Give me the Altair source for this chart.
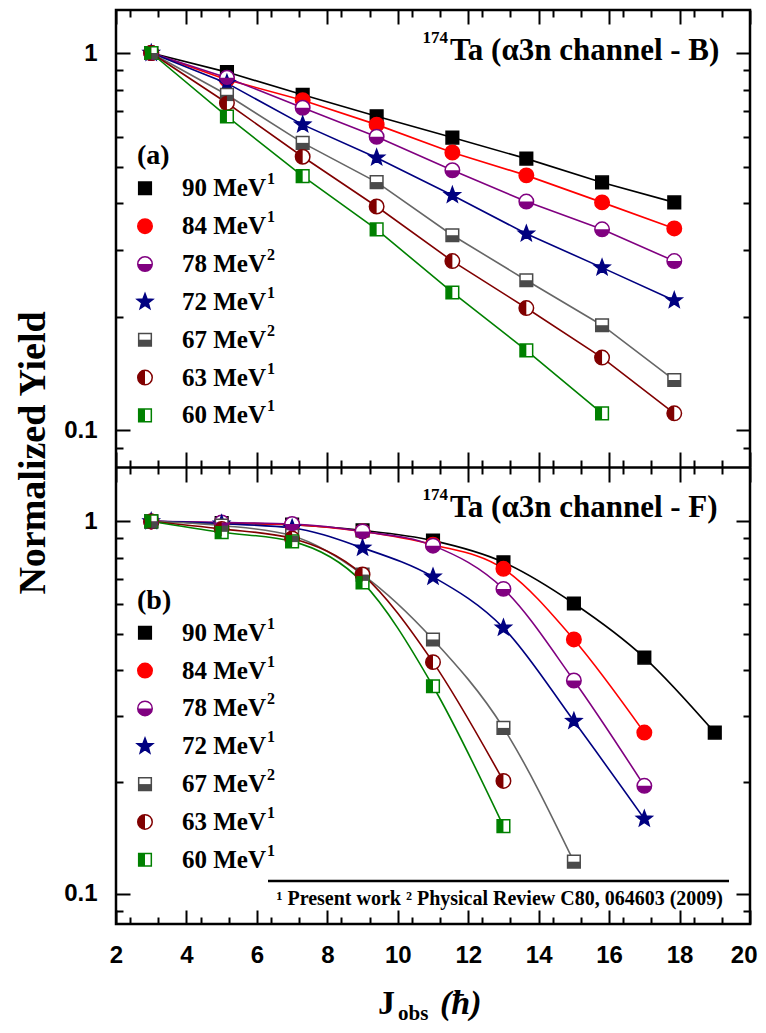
import math
import altair as alt
import pandas as pd

# ---------------- data ----------------
SERIES = ["90 MeV", "84 MeV", "78 MeV", "72 MeV", "67 MeV", "63 MeV", "60 MeV"]
REFS = ["1", "1", "2", "1", "2", "1", "1"]

# panel (a): alpha3n channel - B
J_B = [3, 5.15, 7.3, 9.4, 11.55, 13.65, 15.8, 17.85]
B_90 = [1.0, 0.89, 0.775, 0.68, 0.597, 0.525, 0.454, 0.402]
B_84 = [1.0, 0.85, 0.75, 0.646, 0.545, 0.474, 0.402, 0.343]
B_78 = [1.0, 0.86, 0.716, 0.60, 0.489, 0.404, 0.341, 0.281]
B_72 = [1.0, 0.832, 0.646, 0.528, 0.42, 0.332, 0.27, 0.221]
B_67 = [1.0, 0.775, 0.578, 0.455, 0.329, 0.25, 0.19, 0.136]
B_63 = [1.0, 0.737, 0.531, 0.392, 0.281, 0.211, 0.156, 0.111]
B_60 = [1.0, 0.679, 0.472, 0.341, 0.232, 0.163, 0.111]

# panel (b): alpha3n channel - F
J_F = [3, 5, 7, 9, 11, 13, 15, 17, 19]
F_90 = [1.0, 0.99, 0.98, 0.946, 0.888, 0.777, 0.602, 0.431, 0.271]
F_84 = [1.0, 0.99, 0.98, 0.94, 0.866, 0.746, 0.482, 0.271]
F_78 = [1.0, 0.994, 0.984, 0.94, 0.861, 0.659, 0.374, 0.195]
F_72 = [1.0, 0.986, 0.96, 0.849, 0.71, 0.518, 0.291, 0.159]
F_67 = [1.0, 0.975, 0.915, 0.72, 0.482, 0.279, 0.122]
F_63 = [1.0, 0.955, 0.9, 0.72, 0.419, 0.201]
F_60 = [1.0, 0.935, 0.884, 0.686, 0.361, 0.152]

X_TICKS = [2, 4, 6, 8, 10, 12, 14, 16, 18, 20]
Y_TICKS = [0.1, 1]

ISOTOPE = "174"
TITLE_A = "Ta (α3n channel - B)"
TITLE_B = "Ta (α3n channel - F)"
PANEL_A = "(a)"
PANEL_B = "(b)"
FOOTNOTE = "¹ Present work ² Physical Review C80, 064603 (2009)"
Y_TITLE = "Normalized  Yield"

# ---------------- styles ----------------
SERIF = "Liberation Serif"
SANS = "Liberation Sans"
W, H = 634, 914
HALF_H = 457

HALF_CIRCLE_BOTTOM = "M -1 0 A 1 1 0 0 0 1 0 Z"
HALF_CIRCLE_LEFT = "M 0 -1 A 1 1 0 0 0 0 1 Z"
HALF_SQUARE_BOTTOM = "M -1 0 L 1 0 L 1 1 L -1 1 Z"
HALF_SQUARE_LEFT = "M -1 -1 L 0 -1 L 0 1 L -1 1 Z"


def star_path(inner=0.42):
    pts = []
    for k in range(10):
        a = math.radians(-90 + 36 * k)
        r = 1.0 if k % 2 == 0 else inner
        pts.append(f"{r * math.cos(a):.4f} {r * math.sin(a):.4f}")
    return "M " + " L ".join(pts) + " Z"


STAR = star_path()

STYLE = {
    "90 MeV": dict(color="#000000", line="#000000", shape="square", fill="#000000", half="", size=160),
    "84 MeV": dict(color="#ff0000", line="#ff0000", shape="circle", fill="#ff0000", half="", size=210),
    "78 MeV": dict(color="#800080", line="#800080", shape="circle", fill="#ffffff", half=HALF_CIRCLE_BOTTOM, size=210),
    "72 MeV": dict(color="#000080", line="#000080", shape=STAR, fill="#000080", half="", size=270),
    "67 MeV": dict(color="#4a4a4a", line="#666666", shape="square", fill="#ffffff", half=HALF_SQUARE_BOTTOM, size=160),
    "63 MeV": dict(color="#800000", line="#800000", shape="circle", fill="#ffffff", half=HALF_CIRCLE_LEFT, size=210),
    "60 MeV": dict(color="#008000", line="#008000", shape="square", fill="#ffffff", half=HALF_SQUARE_LEFT, size=160),
}


def panel_df(xs, ys_list):
    rows = []
    for s, ys in zip(SERIES, ys_list):
        st = STYLE[s]
        for x, y in zip(xs, ys):
            rows.append(dict(series=s, J=x, Y=y, **st))
    return pd.DataFrame(rows)


top_df = panel_df(J_B, [B_90, B_84, B_78, B_72, B_67, B_63, B_60])
bot_df = panel_df(J_F, [F_90, F_84, F_78, F_72, F_67, F_63, F_60])

XS = alt.Scale(domain=[2, 20], nice=False, zero=False)
YT = alt.Scale(type="log", domain=[0.08, 1.3], range=[HALF_H, 0], nice=False)
YB = alt.Scale(type="log", domain=[0.083, 1.4], range=[H, HALF_H], nice=False)


def lines(df, ys, interp):
    return alt.Chart(df).mark_line(strokeWidth=1.6, interpolate=interp).encode(
        x=alt.X("J:Q", scale=XS, axis=None),
        y=alt.Y("Y:Q", scale=ys, axis=None),
        stroke=alt.Stroke("line:N", scale=None),
        detail="series:N",
    )


def markers(df, xenc, yenc):
    base = alt.Chart(df).mark_point(filled=True, strokeWidth=1.5, opacity=1).encode(
        x=xenc, y=yenc,
        shape=alt.Shape("shape:N", scale=None),
        fill=alt.Fill("fill:N", scale=None),
        stroke=alt.Stroke("color:N", scale=None),
        size=alt.Size("size:Q", scale=None),
    )
    half = alt.Chart(df[df["half"] != ""]).mark_point(filled=True, strokeWidth=0, opacity=1).encode(
        x=xenc, y=yenc,
        shape=alt.Shape("half:N", scale=None),
        fill=alt.Fill("color:N", scale=None),
        size=alt.Size("size:Q", scale=None),
    )
    return [base, half]


# legend table (layout computed from row index)
LEG_FONT = 25
leg_rows = []
for top0 in (178.3, 622.7):
    for i, (s, r) in enumerate(zip(SERIES, REFS)):
        c = top0 + 37.85 * i
        d = dict(series=s, label=s, ref=r, lx=29, ly=c, tx=66, ty=c + 8,
                 sx=66 + 3.36 * LEG_FONT + 1, sy=c - 4)
        d.update(STYLE[s])
        leg_rows.append(d)
leg_df = pd.DataFrame(leg_rows)

ONE = pd.DataFrame({"k": [0]})


def text(t, x, y, size, font=SERIF, align="left", baseline="alphabetic", angle=0, style="normal"):
    return alt.Chart(ONE).mark_text(
        text=t, align=align, baseline=baseline, angle=angle, font=font,
        fontSize=size, fontWeight="bold", fontStyle=style, color="black",
    ).encode(x=alt.value(x), y=alt.value(y))


AXD = pd.DataFrame({"J": [10.0], "Y": [0.5]})
MINOR_X = [round(2 + 0.4 * i, 1) for i in range(46) if i % 5]
MINOR_Y = [0.09] + [k / 10 for k in range(2, 10)]


def xaxis(orient, offset, size, values, labels=False, domain=False, align="center", loff=0):
    ax = alt.Axis(
        orient=orient, offset=offset, values=values, tickSize=size, ticks=size > 0,
        labels=labels, domain=domain, grid=False, title=None, tickWidth=2, tickColor="black",
        domainWidth=2.5, domainColor="black", labelFont=SANS, labelFontSize=24,
        labelFontWeight="bold", labelColor="black", labelPadding=19, labelFlush=False,
        labelOverlap=False, format="d", labelAlign=align, labelOffset=loff,
    )
    return alt.Chart(AXD).mark_point(opacity=0).encode(x=alt.X("J:Q", scale=XS, axis=ax))


def yaxis(scale, orient, offset, size, values, labels=False):
    ax = alt.Axis(
        orient=orient, offset=offset, values=values, tickSize=size, ticks=size > 0,
        labels=labels, domain=False, grid=False, title=None, tickWidth=2, tickColor="black",
        labelFont=SANS, labelFontSize=24, labelFontWeight="bold", labelColor="black",
        labelPadding=19, labelFlush=False, labelOverlap=False, format=".1~f",
    )
    return alt.Chart(AXD).mark_point(opacity=0).encode(y=alt.Y("Y:Q", scale=scale, axis=ax))


layers = []
layers.append(lines(top_df, YT, "linear"))
layers.append(lines(bot_df, YB, "monotone"))
layers += markers(top_df, alt.X("J:Q", scale=XS, axis=None), alt.Y("Y:Q", scale=YT, axis=None))
layers += markers(bot_df, alt.X("J:Q", scale=XS, axis=None), alt.Y("Y:Q", scale=YB, axis=None))
layers += markers(leg_df, alt.X("lx:Q", scale=None, axis=None), alt.Y("ly:Q", scale=None, axis=None))
layers.append(
    alt.Chart(leg_df).mark_text(align="left", baseline="alphabetic", font=SERIF, fontSize=LEG_FONT,
                                fontWeight="bold", color="black").encode(
        x=alt.X("tx:Q", scale=None, axis=None), y=alt.Y("ty:Q", scale=None, axis=None), text="label:N")
)
layers.append(
    alt.Chart(leg_df).mark_text(align="left", baseline="alphabetic", font=SERIF, fontSize=16,
                                fontWeight="bold", color="black").encode(
        x=alt.X("sx:Q", scale=None, axis=None), y=alt.Y("sy:Q", scale=None, axis=None), text="ref:N")
)

# panel labels and titles
layers.append(text(PANEL_A, 21, 154, 28))
layers.append(text(PANEL_B, 21, 599, 28))
layers.append(text(TITLE_A, 334, 50, 31))
layers.append(text(ISOTOPE, 332, 33, 17, align="right"))
layers.append(text(TITLE_B, 334, 507, 31))
layers.append(text(ISOTOPE, 332, 490, 17, align="right"))

# footnote with rule above it
layers.append(alt.Chart(ONE).mark_rule(color="black", strokeWidth=2.5).encode(
    x=alt.value(152), x2=alt.value(613), y=alt.value(871)))
layers.append(text(FOOTNOTE, 607, 895, 20, align="right"))

# axis titles
layers.append(text(Y_TITLE, -71, 443, 38, align="center", angle=270))
layers.append(text("J", 262, 1004, 34))
layers.append(text("obs", 282, 1010, 21))
layers.append(text("(ħ)", 324, 1004, 34, style="italic"))

# x axes: bottom frame, top frame, divider (both sides)
layers += [
    xaxis("bottom", 0, 0, X_TICKS[:-1], labels=True),
    xaxis("bottom", 0, 0, X_TICKS[-1:], labels=True, align="right", loff=7),
    xaxis("top", -H, 14, X_TICKS),
    xaxis("top", -H, 7, MINOR_X),
    xaxis("bottom", -H, 14, X_TICKS),
    xaxis("bottom", -H, 7, MINOR_X),
    xaxis("bottom", -HALF_H, 15, X_TICKS, domain=True),
    xaxis("bottom", -HALF_H, 7, MINOR_X),
    xaxis("top", -HALF_H, 15, X_TICKS),
    xaxis("top", -HALF_H, 7, MINOR_X),
]
# y axes for each panel: labels, inward ticks left and right
for sc in (YT, YB):
    layers += [
        yaxis(sc, "left", 0, 0, Y_TICKS, labels=True),
        yaxis(sc, "right", -W, 14, Y_TICKS),
        yaxis(sc, "right", -W, 7, MINOR_Y),
        yaxis(sc, "left", -W, 14, Y_TICKS),
        yaxis(sc, "left", -W, 7, MINOR_Y),
    ]

chart = alt.layer(*layers).resolve_scale(x="independent", y="independent").properties(
    width=W, height=H,
    autosize=alt.AutoSizeParams(type="none"),
    padding={"left": 108, "top": 2, "right": 8, "bottom": 101},
    background="white",
).configure_view(stroke="black", strokeWidth=2.5)

chart.save("out.html", embed_options={"renderer": "svg", "actions": False})
